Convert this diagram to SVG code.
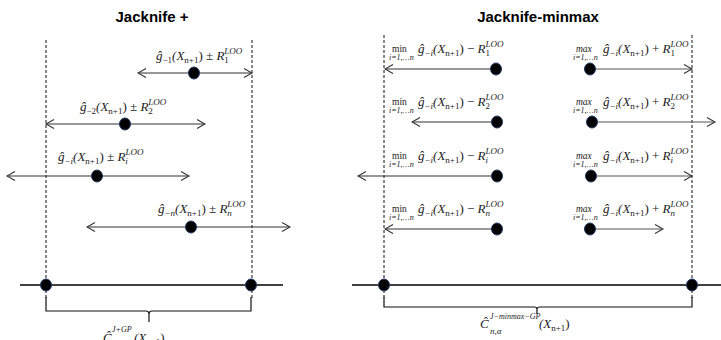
<svg xmlns="http://www.w3.org/2000/svg" width="721" height="340" viewBox="0 0 721 340">
<style>
.t{font-family:"Liberation Sans",Arial,sans-serif;font-weight:bold;font-size:15px;fill:#000}
.m{font-family:"Liberation Serif","Times New Roman",serif;font-style:italic;font-size:13px;fill:#222}
.u{font-style:normal}
.s{font-size:9px}
.ss{font-size:8px}
.op{font-family:"Liberation Serif",serif;font-size:9.5px;fill:#222}
.dash{stroke:#111;stroke-width:1;stroke-dasharray:3 2;fill:none}
.ax{stroke:#000;stroke-width:1.3;fill:none}
.ar{stroke:#333;stroke-width:1.2;fill:none;marker-end:url(#ah)}
.ar2{stroke:#333;stroke-width:1.2;fill:none;marker-start:url(#ah);marker-end:url(#ah)}
.ar3{stroke:#555;stroke-width:1.2;fill:none;marker-end:url(#ah)}
.dot{fill:#000;stroke:#1f3864;stroke-width:1}
.br{stroke:#111;stroke-width:1.2;fill:none}
</style>
<defs>
<marker id="ah" viewBox="0 0 10 10" refX="9" refY="5" markerWidth="10" markerHeight="10" markerUnits="userSpaceOnUse" orient="auto-start-reverse">
<path d="M1,0.5 L9,5 L1,9.5" fill="none" stroke="#333" stroke-width="1.1"/>
</marker>
</defs>

<text class="t" x="152" y="22" text-anchor="middle" font-size="16.5">Jacknife +</text>
<text class="t" x="538" y="22" text-anchor="middle">Jacknife-minmax</text>

<g id="guides">
<line class="dash" x1="46" y1="40" x2="46" y2="300"/>
<line class="dash" x1="252" y1="40" x2="252" y2="300"/>
<line class="dash" x1="384" y1="35" x2="384" y2="298"/>
<line class="dash" x1="692" y1="35" x2="692" y2="298"/>
<line class="ax" x1="20" y1="285" x2="283" y2="285"/>
<line class="ax" x1="352" y1="285" x2="721" y2="285"/>
</g>

<g id="connectors">
<line class="ar2" x1="138" y1="73" x2="252" y2="73"/>
<line class="ar2" x1="46" y1="124" x2="205" y2="124"/>
<line class="ar2" x1="7" y1="176" x2="189" y2="176"/>
<line class="ar2" x1="87" y1="227" x2="290" y2="227"/>
<line class="ar" x1="496" y1="69" x2="385" y2="69"/>
<line class="ar" x1="497" y1="122" x2="412" y2="122"/>
<line class="ar" x1="497" y1="176" x2="358" y2="176"/>
<line class="ar" x1="497" y1="229" x2="385" y2="229"/>
<line class="ar3" x1="590" y1="69" x2="692" y2="69"/>
<line class="ar3" x1="592" y1="122" x2="715" y2="122"/>
<line class="ar3" x1="591" y1="176" x2="692" y2="176"/>
<line class="ar3" x1="590" y1="229" x2="663" y2="229"/>
</g>

<g id="l-row1">
<text class="m" x="156" y="60">ĝ<tspan class="s u" dy="3">−1</tspan><tspan dy="-3">(X</tspan><tspan class="s u" dy="3">n+1</tspan><tspan class="u" dy="-3">) ± </tspan>R<tspan class="s u" dy="3">1</tspan><tspan class="s" dx="-4.5" dy="-9">LOO</tspan></text>
<ellipse class="dot" cx="194" cy="73" rx="5.5" ry="6"/>
</g>
<g id="l-row2">
<text class="m" x="80" y="111">ĝ<tspan class="s u" dy="3">−2</tspan><tspan dy="-3">(X</tspan><tspan class="s u" dy="3">n+1</tspan><tspan class="u" dy="-3">) ± </tspan>R<tspan class="s u" dy="3">2</tspan><tspan class="s" dx="-4.5" dy="-9">LOO</tspan></text>
<ellipse class="dot" cx="125" cy="124" rx="5.5" ry="6"/>
</g>
<g id="l-row3">
<text class="m" x="58" y="161">ĝ<tspan class="s" dy="3">−i</tspan><tspan dy="-3">(X</tspan><tspan class="s u" dy="3">n+1</tspan><tspan class="u" dy="-3">) ± </tspan>R<tspan class="s" dy="3">i</tspan><tspan class="s" dx="-2.5" dy="-9">LOO</tspan></text>
<ellipse class="dot" cx="97" cy="176" rx="5.5" ry="6"/>
</g>
<g id="l-row4">
<text class="m" x="158" y="213">ĝ<tspan class="s" dy="3">−n</tspan><tspan dy="-3">(X</tspan><tspan class="s u" dy="3">n+1</tspan><tspan class="u" dy="-3">) ± </tspan>R<tspan class="s" dy="3">n</tspan><tspan class="s" dx="-4.5" dy="-9">LOO</tspan></text>
<ellipse class="dot" cx="191" cy="227" rx="5.5" ry="6"/>
</g>

<g id="min-row1">
<text class="op" x="392" y="52">min</text>
<text class="m ss" x="389" y="60">i=1,…n</text>
<text class="m" x="418" y="53">ĝ<tspan class="s" dy="3">−i</tspan><tspan dy="-3">(X</tspan><tspan class="s u" dy="3">n+1</tspan><tspan class="u" dy="-3">) − </tspan>R<tspan class="s u" dy="3">1</tspan><tspan class="s" dx="-4.5" dy="-9">LOO</tspan></text>
<ellipse class="dot" cx="496" cy="69" rx="5.5" ry="6"/>
</g>
<g id="min-row2">
<text class="op" x="392" y="105">min</text>
<text class="m ss" x="389" y="113">i=1,…n</text>
<text class="m" x="418" y="106">ĝ<tspan class="s" dy="3">−i</tspan><tspan dy="-3">(X</tspan><tspan class="s u" dy="3">n+1</tspan><tspan class="u" dy="-3">) − </tspan>R<tspan class="s u" dy="3">2</tspan><tspan class="s" dx="-4.5" dy="-9">LOO</tspan></text>
<ellipse class="dot" cx="497" cy="122" rx="5.5" ry="6"/>
</g>
<g id="min-row3">
<text class="op" x="392" y="159">min</text>
<text class="m ss" x="389" y="167">i=1,…n</text>
<text class="m" x="418" y="160">ĝ<tspan class="s" dy="3">−i</tspan><tspan dy="-3">(X</tspan><tspan class="s u" dy="3">n+1</tspan><tspan class="u" dy="-3">) − </tspan>R<tspan class="s" dy="3">i</tspan><tspan class="s" dx="-2.5" dy="-9">LOO</tspan></text>
<ellipse class="dot" cx="497" cy="176" rx="5.5" ry="6"/>
</g>
<g id="min-row4">
<text class="op" x="392" y="212">min</text>
<text class="m ss" x="389" y="220">i=1,…n</text>
<text class="m" x="418" y="213">ĝ<tspan class="s" dy="3">−i</tspan><tspan dy="-3">(X</tspan><tspan class="s u" dy="3">n+1</tspan><tspan class="u" dy="-3">) − </tspan>R<tspan class="s" dy="3">n</tspan><tspan class="s" dx="-4.5" dy="-9">LOO</tspan></text>
<ellipse class="dot" cx="497" cy="229" rx="5.5" ry="6"/>
</g>

<g id="max-row1">
<text class="op" x="576" y="52" font-style="italic">max</text>
<text class="m ss" x="573" y="60">i=1,…n</text>
<text class="m" x="603" y="53">ĝ<tspan class="s" dy="3">−i</tspan><tspan dy="-3">(X</tspan><tspan class="s u" dy="3">n+1</tspan><tspan class="u" dy="-3">) + </tspan>R<tspan class="s u" dy="3">1</tspan><tspan class="s" dx="-4.5" dy="-9">LOO</tspan></text>
<ellipse class="dot" cx="590" cy="69" rx="5.5" ry="6"/>
</g>
<g id="max-row2">
<text class="op" x="576" y="105" font-style="italic">max</text>
<text class="m ss" x="573" y="113">i=1,…n</text>
<text class="m" x="603" y="106">ĝ<tspan class="s" dy="3">−i</tspan><tspan dy="-3">(X</tspan><tspan class="s u" dy="3">n+1</tspan><tspan class="u" dy="-3">) + </tspan>R<tspan class="s u" dy="3">2</tspan><tspan class="s" dx="-4.5" dy="-9">LOO</tspan></text>
<ellipse class="dot" cx="592" cy="122" rx="5.5" ry="6"/>
</g>
<g id="max-row3">
<text class="op" x="576" y="159" font-style="italic">max</text>
<text class="m ss" x="573" y="167">i=1,…n</text>
<text class="m" x="603" y="160">ĝ<tspan class="s" dy="3">−i</tspan><tspan dy="-3">(X</tspan><tspan class="s u" dy="3">n+1</tspan><tspan class="u" dy="-3">) + </tspan>R<tspan class="s" dy="3">i</tspan><tspan class="s" dx="-2.5" dy="-9">LOO</tspan></text>
<ellipse class="dot" cx="591" cy="176" rx="5.5" ry="6"/>
</g>
<g id="max-row4">
<text class="op" x="576" y="212" font-style="italic">max</text>
<text class="m ss" x="573" y="220">i=1,…n</text>
<text class="m" x="603" y="213">ĝ<tspan class="s" dy="3">−i</tspan><tspan dy="-3">(X</tspan><tspan class="s u" dy="3">n+1</tspan><tspan class="u" dy="-3">) + </tspan>R<tspan class="s" dy="3">n</tspan><tspan class="s" dx="-4.5" dy="-9">LOO</tspan></text>
<ellipse class="dot" cx="590" cy="229" rx="5.5" ry="6"/>
</g>

<g id="left-interval">
<ellipse class="dot" cx="46" cy="285" rx="5.5" ry="6"/>
<ellipse class="dot" cx="251" cy="285" rx="5.5" ry="6"/>
<path class="br" d="M46,297 V311 H146 Q149,311 149,314 V322 M149,314 Q149,311 152,311 H251 V297"/>
<text class="m" x="103" y="342">Ĉ</text>
<text class="m ss" x="112" y="332">J+GP</text>
<text class="m s" x="112" y="347">n,α</text>
<text class="m" x="134" y="342">(X<tspan class="s u" dy="3">n+1</tspan><tspan class="u" dy="-3">)</tspan></text>
</g>

<g id="right-interval">
<ellipse class="dot" cx="384" cy="285" rx="5.5" ry="6"/>
<ellipse class="dot" cx="692" cy="285" rx="5.5" ry="6"/>
<path class="br" d="M384,297 V307 H534 Q537,307 537,309 V314 M537,309 Q537,307 540,307 H692 V297"/>
<text class="m" x="480" y="328">Ĉ</text>
<text class="m ss" x="490" y="319">J−minmax−GP</text>
<text class="m s" x="490" y="334">n,α</text>
<text class="m" x="539" y="328">(X<tspan class="s u" dy="3">n+1</tspan><tspan class="u" dy="-3">)</tspan></text>
</g>
</svg>
